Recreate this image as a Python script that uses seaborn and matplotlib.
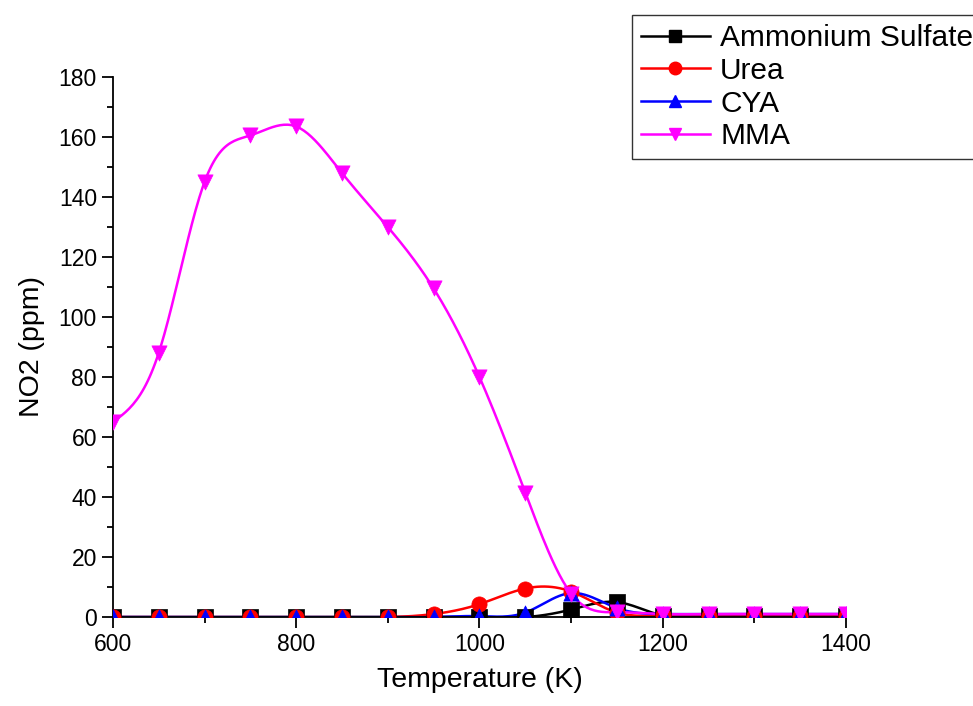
import matplotlib
matplotlib.use("Agg")
import matplotlib.pyplot as plt
from matplotlib.lines import Line2D
from matplotlib.ticker import MultipleLocator
import numpy as np
import pandas as pd
import seaborn as sns

temps = [600, 650, 700, 750, 800, 850, 900, 950, 1000, 1050,
         1100, 1150, 1200, 1250, 1300, 1350, 1400]
ammonium = [0, 0, 0, 0, 0, 0, 0, 0, 0, 0, 2.5, 5, 0.5, 0.3, 0.3, 0.3, 0.3]
urea = [0, 0, 0, 0, 0, 0, 0, 1, 4.3, 9.5, 8.5, 1.5, 0.6, 0.4, 0.4, 0.4, 0.4]
cya = [0, 0, 0, 0, 0, 0, 0, 0, 0.3, 1.5, 8, 3, 1, 1, 1, 1, 1]
mma = [65, 88, 145, 160.5, 163.5, 148, 130, 109.5, 80, 41.5,
       7.8, 1.6, 1, 1, 1, 1, 1]

names = ["Ammonium Sulfate", "Urea", "CYA", "MMA"]
series = [ammonium, urea, cya, mma]
colors = ["black", "#ff0000", "#0000ff", "#ff00ff"]
markers = ["s", "o", "^", "v"]


def natural_spline(x, y, n=400):
    # natural cubic spline, just for the smooth connecting line
    x = np.asarray(x, float)
    y = np.asarray(y, float)
    k = len(x)
    h = np.diff(x)
    A = np.zeros((k, k))
    b = np.zeros(k)
    A[0, 0] = A[-1, -1] = 1
    for i in range(1, k - 1):
        A[i, i - 1] = h[i - 1]
        A[i, i] = 2 * (h[i - 1] + h[i])
        A[i, i + 1] = h[i]
        b[i] = 6 * ((y[i + 1] - y[i]) / h[i] - (y[i] - y[i - 1]) / h[i - 1])
    M = np.linalg.solve(A, b)
    xs = np.linspace(x[0], x[-1], n)
    idx = np.clip(np.searchsorted(x, xs) - 1, 0, k - 2)
    x0, x1 = x[idx], x[idx + 1]
    hh = x1 - x0
    t0, t1 = x1 - xs, xs - x0
    ys = (M[idx] * t0 ** 3 + M[idx + 1] * t1 ** 3) / (6 * hh) \
        + (y[idx] / hh - M[idx] * hh / 6) * t0 \
        + (y[idx + 1] / hh - M[idx + 1] * hh / 6) * t1
    return xs, ys


plt.rcParams["font.family"] = ["Liberation Sans", "DejaVu Sans"]
fig = plt.figure(figsize=(9.73, 7.06), dpi=100)
ax = fig.add_axes([0.116, 0.126, 0.7535, 0.765])

for name, vals, c, m in zip(names, series, colors, markers):
    xs, ys = natural_spline(temps, vals)
    sns.lineplot(x=xs, y=ys, color=c, lw=1.8, ax=ax, zorder=2)
    pts = pd.DataFrame({"T": temps, "v": vals})
    sns.scatterplot(data=pts, x="T", y="v", marker=m, color=c, s=120,
                    edgecolor=c, linewidth=0.5, ax=ax, zorder=3)

ax.set_xlim(600, 1400)
ax.set_ylim(0, 180)
ax.xaxis.set_major_locator(MultipleLocator(200))
ax.xaxis.set_minor_locator(MultipleLocator(100))
ax.yaxis.set_major_locator(MultipleLocator(20))
ax.yaxis.set_minor_locator(MultipleLocator(10))
ax.tick_params(which="major", direction="out", length=8, width=1.3, labelsize=16.5)
ax.tick_params(which="minor", direction="out", length=4.5, width=1.3)
for s in ["top", "right"]:
    ax.spines[s].set_visible(False)
for s in ["left", "bottom"]:
    ax.spines[s].set_linewidth(1.3)
ax.set_xlabel("Temperature (K)", fontsize=20.5, labelpad=8)
ax.set_ylabel("NO2 (ppm)", fontsize=20.5, labelpad=10)

handles = [Line2D([], [], color=c, marker=m, markersize=9, lw=1.8)
           for c, m in zip(colors, markers)]
leg = fig.legend(handles, names, loc="upper left",
                 bbox_to_anchor=(632 / 973, 1 - 15 / 706),
                 fontsize=21.5, frameon=True, fancybox=False,
                 handlelength=2.3, handletextpad=0.35, borderpad=0.3,
                 labelspacing=0.16, borderaxespad=0)
leg.get_frame().set_edgecolor("black")
leg.get_frame().set_linewidth(1.0)

fig.savefig("out.png", dpi=100)
